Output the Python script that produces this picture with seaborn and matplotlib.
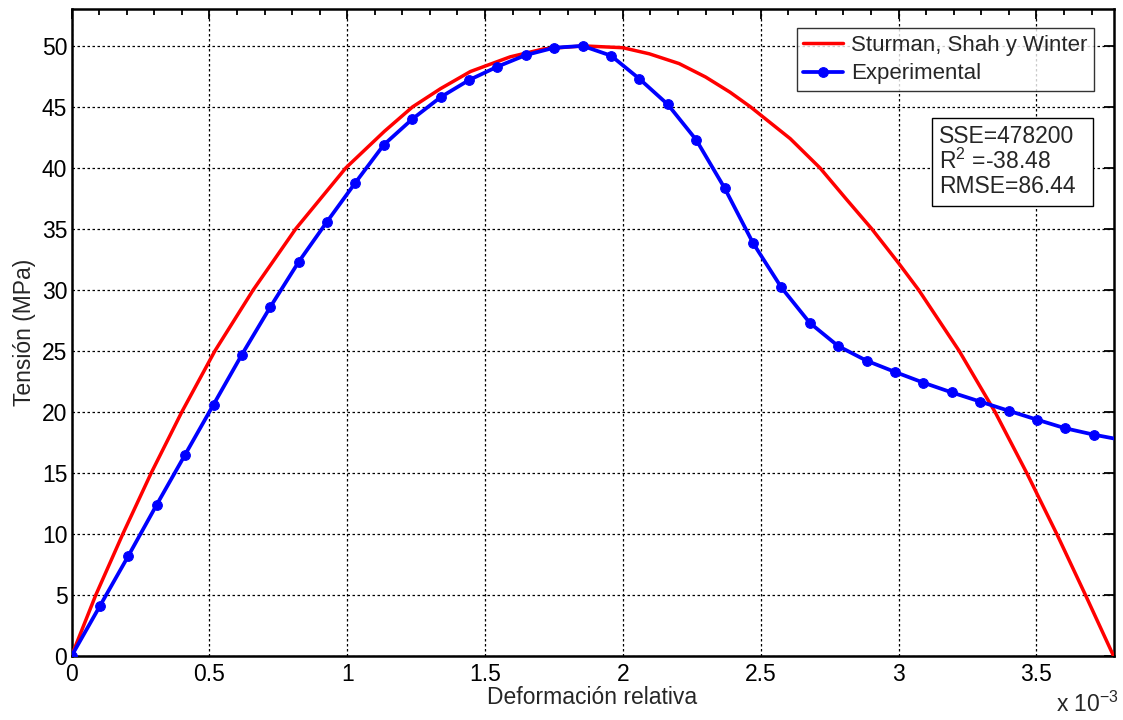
import numpy as np
import pandas as pd
import matplotlib
matplotlib.use("Agg")
import matplotlib.pyplot as plt
import seaborn as sns
from matplotlib.ticker import MultipleLocator
from matplotlib.patches import Rectangle

# Strain values in units of 1e-3
model_x = [0.0, 0.088, 0.186, 0.289, 0.400, 0.520, 0.659, 0.813, 0.995, 1.135, 1.237,
           1.339, 1.447, 1.591, 1.712, 1.856, 2.000, 2.096, 2.204, 2.300, 2.389, 2.463,
           2.607, 2.715, 2.812, 2.903, 3.000, 3.073, 3.220, 3.350, 3.465, 3.574, 3.678,
           3.780]
model_y = [0.0, 5.0, 10.0, 15.0, 20.0, 25.0, 30.0, 35.0, 40.0, 43.0, 45.0,
           46.5, 47.9, 49.1, 49.75, 50.0, 49.85, 49.35, 48.55, 47.45, 46.2, 45.0,
           42.4, 40.0, 37.4, 35.0, 32.2, 30.0, 25.0, 20.0, 15.0, 10.0, 5.0,
           0.0]

exp_x = [0.0, 0.103, 0.206, 0.309, 0.412, 0.515, 0.618, 0.721, 0.824, 0.927, 1.030,
         1.133, 1.236, 1.339, 1.442, 1.545, 1.648, 1.751, 1.854, 1.957, 2.060, 2.163,
         2.266, 2.369, 2.472, 2.575, 2.678, 2.781, 2.884, 2.987, 3.090, 3.193, 3.296,
         3.399, 3.502, 3.605, 3.708, 3.811]
exp_y = [0.0, 4.1, 8.2, 12.4, 16.5, 20.6, 24.7, 28.6, 32.3, 35.6, 38.8, 41.9, 44.0,
         45.8, 47.2, 48.3, 49.25, 49.85, 50.0, 49.2, 47.3, 45.2, 42.3, 38.35, 33.85,
         30.2, 27.3, 25.4, 24.2, 23.28, 22.4, 21.6, 20.85, 20.1, 19.37, 18.66,
         18.14, 17.7]

labels = ["Sturman, Shah y Winter", "Experimental"]
stats_lines = ["SSE=478200", r"R$^2$ =-38.48", "RMSE=86.44"]

sns.set_style("white")
plt.rcParams['font.family'] = ['Liberation Sans', 'DejaVu Sans']
plt.rcParams['mathtext.fontset'] = 'custom'
plt.rcParams['mathtext.rm'] = 'Liberation Sans'

FS = 16.5

fig = plt.figure(figsize=(11.23, 7.20), dpi=100)
ax = fig.add_axes([0.0637, 0.0889, 0.9279, 0.8982])

df_m = pd.DataFrame({"x": model_x, "y": model_y})
df_e = pd.DataFrame({"x": exp_x, "y": exp_y})

sns.lineplot(data=df_m, x="x", y="y", ax=ax, color="#ff0000", linewidth=2.5,
             label=labels[0], sort=False, zorder=3)
sns.lineplot(data=df_e, x="x", y="y", ax=ax, color="#0000ff", linewidth=2.7,
             marker="o", markersize=7, markeredgecolor="#0000ff",
             label=labels[1], sort=False, zorder=4)

ax.set_xlim(0, 3.78)
ax.set_ylim(0, 53)
ax.xaxis.set_minor_locator(MultipleLocator(0.1))
ax.set_xticks([0, 0.5, 1, 1.5, 2, 2.5, 3, 3.5])
ax.set_xticklabels(["0", "0.5", "1", "1.5", "2", "2.5", "3", "3.5"])
ax.set_yticks(list(range(0, 51, 5)))
ax.set_yticklabels([str(v) for v in range(0, 51, 5)])

ax.tick_params(axis="both", which="both", direction="in", top=True, right=True,
               labelsize=FS, colors="black")
ax.tick_params(axis="both", which="major", length=7, width=1.3, pad=5)
ax.tick_params(axis="x", which="minor", length=4, width=1.3)
ax.tick_params(axis="y", which="major", pad=3)
ax.grid(True, which="major", linestyle=(0, (2, 2)), color="black", linewidth=0.9)
for s in ax.spines.values():
    s.set_visible(True)
    s.set_color("black")
    s.set_linewidth(1.8)

ax.set_xlabel("Deformación relativa", fontsize=FS, labelpad=0)
ax.set_ylabel("Tensión (MPa)", fontsize=FS, labelpad=4)

fig.text(0.9405, 0.004, r"x 10$^{-3}$", fontsize=FS, ha="left", va="bottom")

leg = ax.legend(loc="upper right", bbox_to_anchor=(0.9813, 0.971), borderaxespad=0,
                fontsize=16, frameon=True, fancybox=False, edgecolor="black",
                handlelength=1.8, borderpad=0.3, labelspacing=0.35, handletextpad=0.35)
leg.get_frame().set_linewidth(1.0)

ax.add_patch(Rectangle((0.8258, 0.6958), 0.9803 - 0.8258, 0.8319 - 0.6958,
                       transform=ax.transAxes, facecolor="white", edgecolor="black",
                       linewidth=1.0, zorder=6))
ax.text(0.8325, 0.821, "\n".join(stats_lines), transform=ax.transAxes, fontsize=FS,
        ha="left", va="top", linespacing=1.05, zorder=7)

fig.savefig("out.png", dpi=100)
